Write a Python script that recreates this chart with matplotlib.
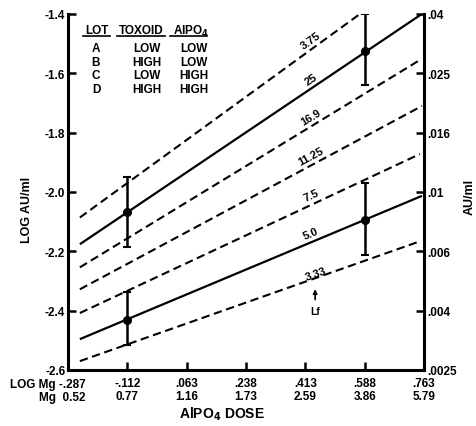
import numpy as np
import matplotlib as mpl
mpl.use('Agg')
import matplotlib.pyplot as plt

mpl.rcParams.update({
    'font.family': 'Liberation Sans',
    'font.weight': 'bold',
    'font.size': 8.5,
    'mathtext.default': 'bf',
})

# iso-potency lines (LOG Mg on x, LOG AU/ml on y), label = AU/ml value
line_labels = ['3.75', '25', '16.9', '11.25', '7.5', '5.0', '3.33']
line_solid = [False, True, False, False, False, True, False]
line_x0 = [-0.252, -0.252, -0.252, -0.252, -0.252, -0.252, -0.252]
line_x1 = [0.574, 0.763, 0.751, 0.757, 0.751, 0.757, 0.754]
line_y0 = [-2.086, -2.176, -2.254, -2.328, -2.408, -2.496, -2.570]
line_y1 = [-1.400, -1.395, -1.555, -1.710, -1.872, -2.013, -2.165]

# measured means with ranges
err_x = [-0.112, 0.588, -0.112, 0.588]
err_y = [-2.067, -1.525, -2.431, -2.094]
err_lo = [-2.185, -1.639, -2.516, -2.212]
err_hi = [-1.949, -1.400, -2.337, -1.970]

log_mg = [-0.287, -0.112, 0.063, 0.238, 0.413, 0.588, 0.763]
log_mg_text = ['-.287', '-.112', '.063', '.238', '.413', '.588', '.763']
mg_text = ['0.52', '0.77', '1.16', '1.73', '2.59', '3.86', '5.79']

left_ticks = [-1.4, -1.6, -1.8, -2.0, -2.2, -2.4, -2.6]
right_tick_text = ['.04', '.025', '.016', '.01', '.006', '.004', '.0025']

lots = ['A', 'B', 'C', 'D']
toxoid = ['LOW', 'HIGH', 'LOW', 'HIGH']
alpo4 = ['LOW', 'LOW', 'HIGH', 'HIGH']

W, H = 477, 427


def fx(px):
    return px / W


def fy(py):
    return 1 - py / H


fig = plt.figure(figsize=(W / 100, H / 100), dpi=100)
ax = fig.add_axes([fx(68), fy(371), (424 - 68) / W, (371 - 15) / H])
ax.set_xlim(-0.287, 0.763)
ax.set_ylim(-2.6, -1.4)

for i, lab in enumerate(line_labels):
    xs = [line_x0[i], line_x1[i]]
    ys = [line_y0[i], line_y1[i]]
    if line_solid[i]:
        ax.plot(xs, ys, color='black', lw=1.6, solid_capstyle='butt')
    else:
        ax.plot(xs, ys, color='black', lw=1.5, dashes=[4, 2.2])
    slope = (ys[1] - ys[0]) / (xs[1] - xs[0])
    lx = 0.445 if lab == '3.33' else 0.43
    dy = 0.013 if lab == '3.33' else 0.032
    ly = ys[0] + (lx - xs[0]) * slope + dy
    ang = np.degrees(np.arctan2(ys[1] - ys[0], xs[1] - xs[0]))
    ax.text(lx, ly, lab, rotation=ang, transform_rotates_text=True,
            rotation_mode='anchor', ha='center', va='center', fontsize=8)

ax.errorbar(err_x, err_y,
            yerr=[np.array(err_y) - np.array(err_lo), np.array(err_hi) - np.array(err_y)],
            fmt='o', color='black', ms=5.5, elinewidth=1.8, capsize=3, capthick=1.5)

# Lf arrow
ax.annotate('', xy=(0.442, -2.318), xytext=(0.442, -2.372),
            arrowprops=dict(arrowstyle='-|>', color='black', lw=1.2, mutation_scale=6))
ax.text(0.442, -2.401, 'Lf', ha='center', va='center', fontsize=7.5)

ax.set_yticks(left_ticks)
ax.set_yticklabels([f'{v:.1f}' for v in left_ticks])
ax.set_xticks(log_mg[1:])
ax.set_xticklabels([f'{a}\n{b}' for a, b in zip(log_mg_text[1:], mg_text[1:])],
                   linespacing=1.1)
ax.tick_params(axis='both', direction='in', length=6, width=1.8)
ax.tick_params(axis='y', pad=2)
ax.tick_params(axis='x', pad=5)
for side in ('top', 'right'):
    ax.spines[side].set_visible(False)
for side in ('left', 'bottom'):
    ax.spines[side].set_linewidth(2.2)

# left end label of the x scale
fig.text(fx(86), fy(385), 'LOG Mg ' + log_mg_text[0], ha='right', va='center')
fig.text(fx(86), fy(398), 'Mg  ' + mg_text[0], ha='right', va='center')

tw = ax.twinx()
tw.set_ylim(-2.6, -1.4)
tw.set_yticks(left_ticks)
tw.set_yticklabels(right_tick_text)
tw.tick_params(axis='y', direction='in', length=6, width=1.8, pad=2)
for side in ('top', 'left', 'bottom'):
    tw.spines[side].set_visible(False)
tw.spines['right'].set_linewidth(2.2)

fig.text(fx(27), fy(210), 'LOG AU/ml', rotation=90, ha='center', va='center', fontsize=9)
fig.text(fx(470), fy(197), 'AU/ml', rotation=90, ha='center', va='center', fontsize=9)
fig.text(fx(222), fy(414), r'AlPO$_4$ DOSE', ha='center', va='center', fontsize=10)

# lot table
head = [('LOT', 97), ('TOXOID', 141), (r'AlPO$_4$', 191)]
for txt, cx in head:
    fig.text(fx(cx), fy(31), txt, ha='center', va='center', fontsize=8.5)
for x0, x1 in [(83, 110), (117, 165), (170, 207)]:
    fig.add_artist(plt.Line2D([fx(x0), fx(x1)], [fy(37), fy(37)], color='black', lw=1.2))
for i in range(len(lots)):
    yy = fy(49 + i * 13.7)
    fig.text(fx(96), yy, lots[i], ha='center', va='center')
    fig.text(fx(147), yy, toxoid[i], ha='center', va='center')
    fig.text(fx(194), yy, alpo4[i], ha='center', va='center')

fig.savefig('out.png', dpi=100)
